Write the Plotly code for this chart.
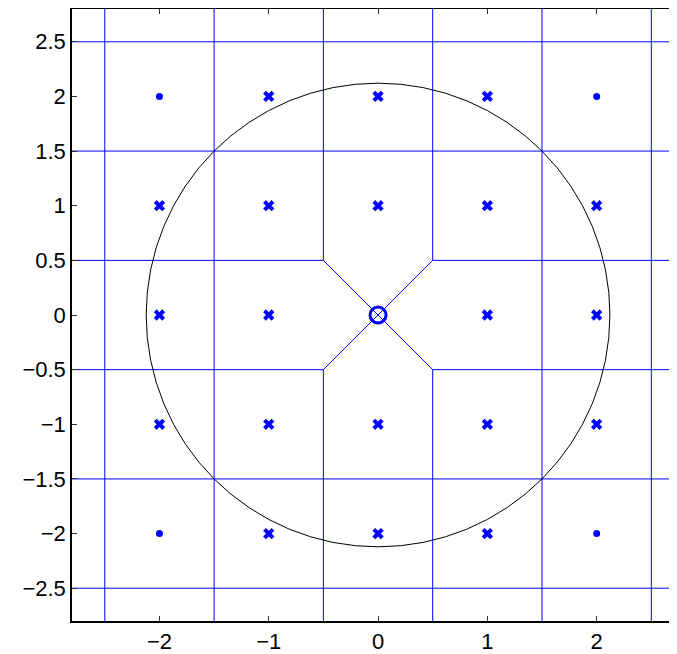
import plotly.graph_objects as go

# lattice points
cross_x = [-1, 0, 1, -2, -1, 0, 1, 2, -2, -1, 1, 2, -2, -1, 0, 1, 2, -1, 0, 1]
cross_y = [2, 2, 2, 1, 1, 1, 1, 1, 0, 0, 0, 0, -1, -1, -1, -1, -1, -2, -2, -2]
dot_x = [-2, 2, -2, 2]
dot_y = [2, 2, -2, -2]
origin_x = [0]
origin_y = [0]

# cell boundaries (segments separated by None)
edge_x = [
    -3, 3, None, -3, 3, None, -3, 3, None, -3, 3, None,          # y = +-1.5, +-2.5
    -1.5, -1.5, None, 1.5, 1.5, None, -2.5, -2.5, None, 2.5, 2.5, None,
    -3, -0.5, -0.5, None, 3, 0.5, 0.5, None,
    -3, -0.5, -0.5, None, 3, 0.5, 0.5, None,
    -0.5, 0.5, None, 0.5, -0.5,
]
edge_y = [
    1.5, 1.5, None, -1.5, -1.5, None, 2.5, 2.5, None, -2.5, -2.5, None,
    -3, 3, None, -3, 3, None, -3, 3, None, -3, 3, None,
    0.5, 0.5, 3, None, 0.5, 0.5, 3, None,
    -0.5, -0.5, -3, None, -0.5, -0.5, -3, None,
    0.5, -0.5, None, 0.5, -0.5,
]

radius = 2.1213  # sqrt(4.5)

BLUE = "#0000ff"

fig = go.Figure()
fig.add_trace(go.Scatter(
    x=edge_x, y=edge_y, mode="lines",
    line=dict(color=BLUE, width=1),
))
fig.add_trace(go.Scatter(
    x=cross_x, y=cross_y, mode="markers",
    marker=dict(symbol="x", size=10, color=BLUE, line=dict(width=0)),
))
fig.add_trace(go.Scatter(
    x=dot_x, y=dot_y, mode="markers",
    marker=dict(symbol="circle", size=7, color=BLUE),
))
fig.add_trace(go.Scatter(
    x=origin_x, y=origin_y, mode="markers",
    marker=dict(symbol="circle-open", size=16, color=BLUE, line=dict(width=3)),
))
fig.add_shape(
    type="circle", xref="x", yref="y",
    x0=-radius, y0=-radius, x1=radius, y1=radius,
    line=dict(color="black", width=1),
)

# page body has an 8px margin, so the figure is sized to the remaining room
fig.update_layout(
    width=669,
    height=646,
    margin=dict(l=64, r=0, t=1, b=33),
    plot_bgcolor="white",
    paper_bgcolor="white",
    showlegend=False,
    font=dict(family="Liberation Sans", size=22, color="black"),
    xaxis=dict(
        range=[-2.8, 2.735],
        tickvals=[-2, -1, 0, 1, 2],
        ticks="inside", ticklen=5, tickwidth=1, tickcolor="#333",
        showline=True, linecolor="black", linewidth=1.5, mirror="ticks",
        showgrid=False, zeroline=False, automargin=False,
    ),
    yaxis=dict(
        range=[-2.8, 2.8],
        tickvals=[-2.5, -2, -1.5, -1, -0.5, 0, 0.5, 1, 1.5, 2, 2.5],
        ticktext=["\u22122.5", "\u22122", "\u22121.5", "\u22121", "\u22120.5", "0",
                  "0.5", "1", "1.5", "2", "2.5"],
        ticks="inside", ticklen=5, tickwidth=1, tickcolor="#333",
        showline=True, linecolor="black", linewidth=1.5,
        showgrid=False, zeroline=False, automargin=False,
    ),
)

fig.write_html("out.html")
